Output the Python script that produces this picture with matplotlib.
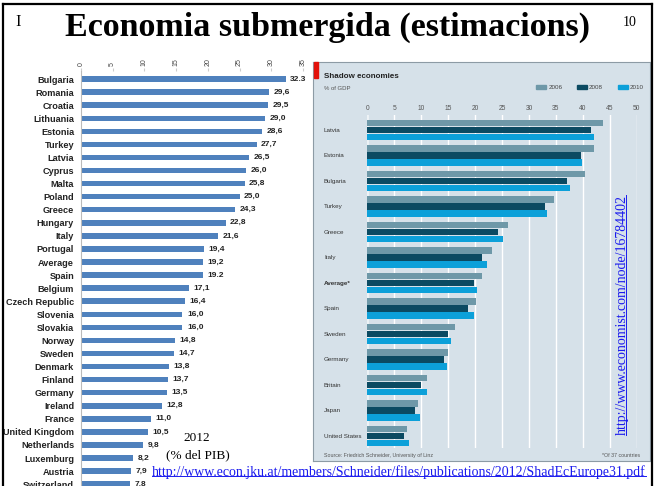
import matplotlib
matplotlib.use("Agg")
import matplotlib.pyplot as plt
from matplotlib.patches import Rectangle, Patch
from matplotlib.lines import Line2D
from matplotlib.transforms import blended_transform_factory
import numpy as np

W, H = 657, 486

# left chart: shadow economy 2012, % of GDP
countries = ['Bulgaria', 'Romania', 'Croatia', 'Lithuania', 'Estonia', 'Turkey', 'Latvia',
             'Cyprus', 'Malta', 'Poland', 'Greece', 'Hungary', 'Italy', 'Portugal', 'Average',
             'Spain', 'Belgium', 'Czech Republic', 'Slovenia', 'Slovakia', 'Norway', 'Sweden',
             'Denmark', 'Finland', 'Germany', 'Ireland', 'France', 'United Kingdom',
             'Netherlands', 'Luxemburg', 'Austria', 'Switzerland']
values_2012 = [32.3, 29.6, 29.5, 29.0, 28.6, 27.7, 26.5, 26.0, 25.8, 25.0, 24.3, 22.8, 21.6,
               19.4, 19.2, 19.2, 17.1, 16.4, 16.0, 16.0, 14.8, 14.7, 13.8, 13.7, 13.5, 12.8,
               11.0, 10.5, 9.8, 8.2, 7.9, 7.8]
value_labels = ['32.3', '29,6', '29,5', '29,0', '28,6', '27,7', '26,5', '26,0', '25,8', '25,0',
                '24,3', '22,8', '21,6', '19,4', '19,2', '19.2', '17,1', '16,4', '16,0', '16,0',
                '14,8', '14,7', '13,8', '13,7', '13,5', '12,8', '11,0', '10,5', '9,8', '8,2',
                '7,9', '7,8']

# right chart: The Economist, shadow economies % of GDP
eco_countries = ['Latvia', 'Estonia', 'Bulgaria', 'Turkey', 'Greece', 'Italy', 'Average*',
                 'Spain', 'Sweden', 'Germany', 'Britain', 'Japan', 'United States']
eco_2006 = [43.7, 42.0, 40.4, 34.7, 26.2, 23.1, 21.2, 20.2, 16.2, 15.0, 11.1, 9.4, 7.4]
eco_2008 = [41.6, 39.6, 37.1, 33.0, 24.3, 21.3, 19.8, 18.7, 14.9, 14.2, 10.0, 8.8, 6.9]
eco_2010 = [42.0, 39.9, 37.7, 33.4, 25.2, 22.2, 20.3, 19.8, 15.5, 14.7, 11.1, 9.7, 7.8]
years = ['2006', '2008', '2010']


def px_box(x0, y0, x1, y1):
    return [x0 / W, 1 - y1 / H, (x1 - x0) / W, (y1 - y0) / H]


serif = 'Liberation Serif'
sans = 'Liberation Sans'

fig = plt.figure(figsize=(W / 100, H / 100), dpi=100)
fig.patch.set_facecolor('white')

# slide border
for xs, ys in [([3, 3], [4, 490]), ([3, 652], [4, 4]), ([652, 652], [4, 490])]:
    fig.add_artist(Line2D([x / W for x in xs], [1 - y / H for y in ys], color='black', lw=1.6))

fig.text(15 / W, 1 - 26 / H, 'I', fontsize=12, family=serif, va='baseline')
fig.text(623 / W, 1 - 26 / H, '10', fontsize=10, family=serif, va='baseline')
fig.text(327.5 / W, 1 - 36 / H, 'Economia submergida (estimacions)', ha='center', va='baseline',
         fontsize=24.5, fontweight='bold', family=serif)

# ---- left chart
ax1 = fig.add_axes(px_box(81, 71.2, 303, 486))
y1 = np.arange(len(countries))
ax1.barh(y1, values_2012, height=0.42, color='#4f81bd')
ax1.set_xlim(0, 35)
ax1.set_ylim(31.14, -0.6)
ax1.xaxis.tick_top()
ax1.set_xticks(range(0, 36, 5))
ax1.set_xticklabels([str(t) for t in range(0, 36, 5)], rotation=90, fontsize=5, color='#444',
                    family=sans)
ax1.tick_params(axis='x', length=2, color='#cccccc', pad=2)
ax1.set_yticks(y1)
ax1.set_yticklabels(countries, fontsize=6.6, fontweight='bold', family=sans, color='#222')
ax1.tick_params(axis='y', length=0, pad=5)
for s in ['top', 'right', 'bottom']:
    ax1.spines[s].set_visible(False)
ax1.spines['left'].set_color('#bbbbbb')
for i, (v, lab) in enumerate(zip(values_2012, value_labels)):
    ax1.text(v + 0.7, i, lab, va='center', fontsize=6, fontweight='bold', family=sans,
             color='#222')

# ---- right chart
bg = fig.add_axes(px_box(313, 62, 650, 461), zorder=0)
bg.set_facecolor('#d6e1e9')
bg.set_xticks([])
bg.set_yticks([])
for s in bg.spines.values():
    s.set_color('#8d9ba5')
    s.set_linewidth(0.8)

fig.add_artist(Rectangle((313.5 / W, 1 - 78 / H), 4 / W, 16 / H, transform=fig.transFigure,
                         color='#e3120b', zorder=3))
fig.text(324 / W, 1 - 76.7 / H, 'Shadow economies', fontsize=5.8, fontweight='bold',
         family=sans, color='#222', va='center')
fig.text(324 / W, 1 - 88 / H, '% of GDP', fontsize=4.3, family=sans, color='#555', va='center')

ax2 = fig.add_axes(px_box(367.3, 114.7, 636.7, 447.5), zorder=1)
ax2.patch.set_alpha(0)
y2 = np.arange(len(eco_countries))
colors = ['#6e98a8', '#0b4a62', '#0ca0d9']
handles = []
for vals, col, off, yr in zip([eco_2006, eco_2008, eco_2010], colors, [-0.275, 0, 0.275], years):
    ax2.barh(y2 + off, vals, height=0.255, color=col, zorder=2)
    handles.append(Patch(color=col, label=yr))
ax2.set_xlim(0, 50)
ax2.set_ylim(12.45, -0.6)
ax2.xaxis.tick_top()
ax2.set_xticks(range(0, 51, 5))
ax2.set_xticklabels([str(t) for t in range(0, 51, 5)], fontsize=4.8, color='#555', family=sans)
ax2.tick_params(axis='x', length=0, pad=2)
ax2.set_yticks([])
ax2.grid(axis='x', color='white', lw=1)
ax2.set_axisbelow(True)
ax2.axvline(0, color='#eef3f6', lw=2, zorder=1)
for s in ax2.spines.values():
    s.set_visible(False)
tr = blended_transform_factory(fig.transFigure, ax2.transData)
for i, name in enumerate(eco_countries):
    ax2.text(324 / W, i, name, transform=tr, va='center', fontsize=4.5, family=sans,
             color='#333', fontweight='bold' if name == 'Average*' else 'normal')

ax2.legend(handles=handles, loc='center right', bbox_to_anchor=(644 / W, 1 - 87.7 / H),
           bbox_transform=fig.transFigure, ncol=3, frameon=False, fontsize=4.5,
           handlelength=1.6, handleheight=0.65, handletextpad=0.3, columnspacing=2.4,
           borderpad=0, borderaxespad=0)
for t in ax2.get_legend().get_texts():
    t.set_color('#444')
    t.set_family(sans)

fig.text(324 / W, 1 - 455 / H, 'Source: Friedrich Schneider, University of Linz', fontsize=3.8,
         family=sans, color='#555', va='center')
fig.text(640 / W, 1 - 455 / H, '*Of 37 countries', fontsize=3.8, family=sans, color='#555',
         va='center', ha='right')

# links and notes
url_v = fig.text(622 / W, 1 - 315 / H, 'http://www.economist.com/node/16784402', rotation=90,
                 fontsize=10, family=serif, color='#1a1aee', ha='center', va='center')
url_h = fig.text(152 / W, 1 - 472 / H,
                 'http://www.econ.jku.at/members/Schneider/files/publications/2012/ShadEcEurope31.pdf',
                 fontsize=10, family=serif, color='#1a1aee', va='center')
fig.text(197 / W, 1 - 438 / H, '2012', fontsize=9.5, family=serif, ha='center', va='center')
fig.text(198 / W, 1 - 455 / H, '(% del PIB)', fontsize=9.5, family=serif, ha='center',
         va='center')

fig.canvas.draw()
r = fig.canvas.get_renderer()
inv = fig.transFigure.inverted()
bb = url_h.get_window_extent(r)
yl = bb.y0 + 0.2 * bb.height
p = inv.transform([[bb.x0, yl], [bb.x1, yl]])
fig.add_artist(Line2D(p[:, 0], p[:, 1], color='#1a1aee', lw=0.7))
bb = url_v.get_window_extent(r)
xl = bb.x1 - 0.2 * bb.width
p = inv.transform([[xl, bb.y0], [xl, bb.y1]])
fig.add_artist(Line2D(p[:, 0], p[:, 1], color='#1a1aee', lw=0.7))

fig.savefig('out.png', dpi=100)
